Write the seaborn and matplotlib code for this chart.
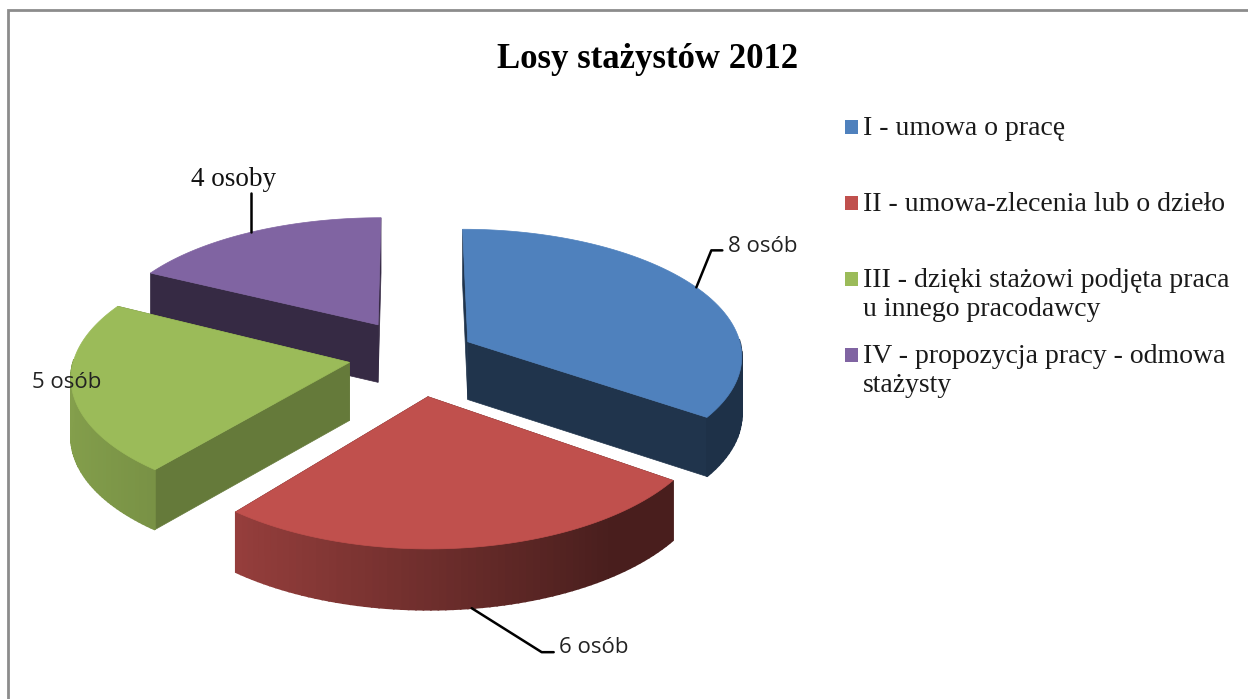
import numpy as np
import seaborn as sns
import matplotlib.pyplot as plt
from matplotlib.patches import Rectangle

# Chart data
categories = [["I - umowa o pracę"], ["II - umowa-zlecenia lub o dzieło"],
              ["III - dzięki stażowi podjęta praca", "u innego pracodawcy"],
              ["IV - propozycja pracy - odmowa", "stażysty"]]
values = [8, 6, 5, 4]
value_labels = ["8 osób", "6 osób", "5 osób", "4 osoby"]
colors = ["#4f81bd", "#c0504d", "#9bbb59", "#8064a2"]
title = "Losy stażystów 2012"

sns.set_theme(style="white")
palette = sns.color_palette(colors)

# pie geometry, all in pixels of the picture
cx, cy = 408, 360
rx, ry = 275, 133
persp_x, persp_y = 0.10, 0.10
depth = 58
explode = 0.235
cut_shade = [0.40, 0.40, 0.65, 0.42]
# small per wedge fit to the picture: shift x, shift y, vertical squash
wedge_fit = [(3, -4, 0.95), (11, 5, 0.98), (5, -4, 0.95), (3, -9, 0.92)]


def project(i, ox, oy, x, y, drop=False):
    dx, dy, sy = wedge_fit[i]
    apex = cy - ry * oy / (1 + persp_y * oy)
    py = cy - ry * y / (1 + persp_y * y)
    px = cx + rx * x / (1 + persp_x * y)
    py = apex + (py - apex) * sy + dy
    if drop:
        py += depth * (1 - 0.04 * y)
    return px + dx, py


def shade(color, f):
    return tuple(c * f for c in color)


def rim_shade(theta):
    return np.interp(np.sin(theta), [-1, -0.63, 0, 0.6, 1], [0.85, 0.78, 0.58, 0.38, 0.38])


fig, ax = plt.subplots(figsize=(12.48, 6.99), dpi=100)
ax.set_position([0, 0, 1, 1])
ax.set_xlim(0, 1248)
ax.set_ylim(699, 0)
ax.axis("off")

# grey chart border, only top and left are in frame
ax.plot([8, 8, 1248], [699, 10, 10], color="#8c8c8c", lw=2, solid_joinstyle="miter")

fractions = np.array(values) / sum(values)
ends = np.cumsum(fractions) * 2 * np.pi
starts = ends - fractions * 2 * np.pi
mids = (starts + ends) / 2

# back wedges first so the front ones cover them
order = [3, 0, 2, 1]
for i in order:
    t = np.linspace(starts[i], ends[i], 70)
    ox, oy = explode * np.sin(mids[i]), explode * np.cos(mids[i])
    edge_x, edge_y = ox + np.sin(t), oy + np.cos(t)
    z = order.index(i) + 1

    # two flat cut faces
    for th in (starts[i], ends[i]):
        ex, ey = ox + np.sin(th), oy + np.cos(th)
        pts = [project(i, ox, oy, ox, oy), project(i, ox, oy, ex, ey),
               project(i, ox, oy, ex, ey, True), project(i, ox, oy, ox, oy, True)]
        ax.fill(*zip(*pts), color=shade(palette[i], cut_shade[i]), lw=0.5, zorder=z)

    # front part of the rim, small slices for the gradient
    for k in range(len(t) - 1):
        if np.cos((t[k] + t[k + 1]) / 2) > 0.02:
            continue
        pts = [project(i, ox, oy, edge_x[k], edge_y[k]), project(i, ox, oy, edge_x[k + 1], edge_y[k + 1]),
               project(i, ox, oy, edge_x[k + 1], edge_y[k + 1], True), project(i, ox, oy, edge_x[k], edge_y[k], True)]
        ax.fill(*zip(*pts), color=shade(palette[i], rim_shade(t[k])), lw=1.2, zorder=z)

    # top face
    top = [project(i, ox, oy, ox, oy)] + [project(i, ox, oy, a, b) for a, b in zip(edge_x, edge_y)]
    ax.fill(*zip(*top), color=palette[i], lw=0.5, zorder=z + 0.5)

# data labels with leader lines, start is the middle of each wedge's outer edge
sans = "Open Sans"
serif = "Liberation Serif"
for i, lab in enumerate(value_labels):
    ox, oy = explode * np.sin(mids[i]), explode * np.cos(mids[i])
    ax_x, ax_y = project(i, ox, oy, ox + np.sin(mids[i]), oy + np.cos(mids[i]), i == 1)
    if i == 0:
        ax.plot([ax_x, ax_x + 15, ax_x + 26], [ax_y, ax_y - 37, ax_y - 37], color="black", lw=1.8, zorder=8)
        ax.text(ax_x + 32, ax_y - 41, lab, family=sans, fontsize=16, color="#222222", va="center", zorder=9)
    elif i == 1:
        ax.plot([ax_x, ax_x + 70, ax_x + 82], [ax_y, ax_y + 44, ax_y + 44], color="black", lw=1.8, zorder=8)
        ax.text(ax_x + 87, ax_y + 39, lab, family=sans, fontsize=16, color="#222222", va="center", zorder=9)
    elif i == 2:
        ax.text(ax_x - 5, ax_y - 6, lab, family=sans, fontsize=16, color="#222222", ha="center", va="center", zorder=9)
    else:
        ax.plot([ax_x, ax_x], [ax_y, ax_y - 39], color="black", lw=1.8, zorder=8)
        ax.text(ax_x - 18, ax_y - 53, lab, family=serif, fontsize=19.5, color="#111111", ha="center", va="center", zorder=9)

ax.text(648, 60, title, family=serif, fontsize=25, fontweight="bold", color="black", ha="center", va="center")

# legend keeps its key on the first line of a wrapped label, entries sit at even steps
base = 135
for lines, col in zip(categories, palette):
    ax.add_patch(Rectangle((845, base - 15), 13, 14, color=col, lw=0))
    for n, line in enumerate(lines):
        ax.text(863, base + n * 29, line, family=serif, fontsize=20, color="#1a1a1a", va="baseline")
    base += 76

fig.savefig("out.png", dpi=100, facecolor="white")
